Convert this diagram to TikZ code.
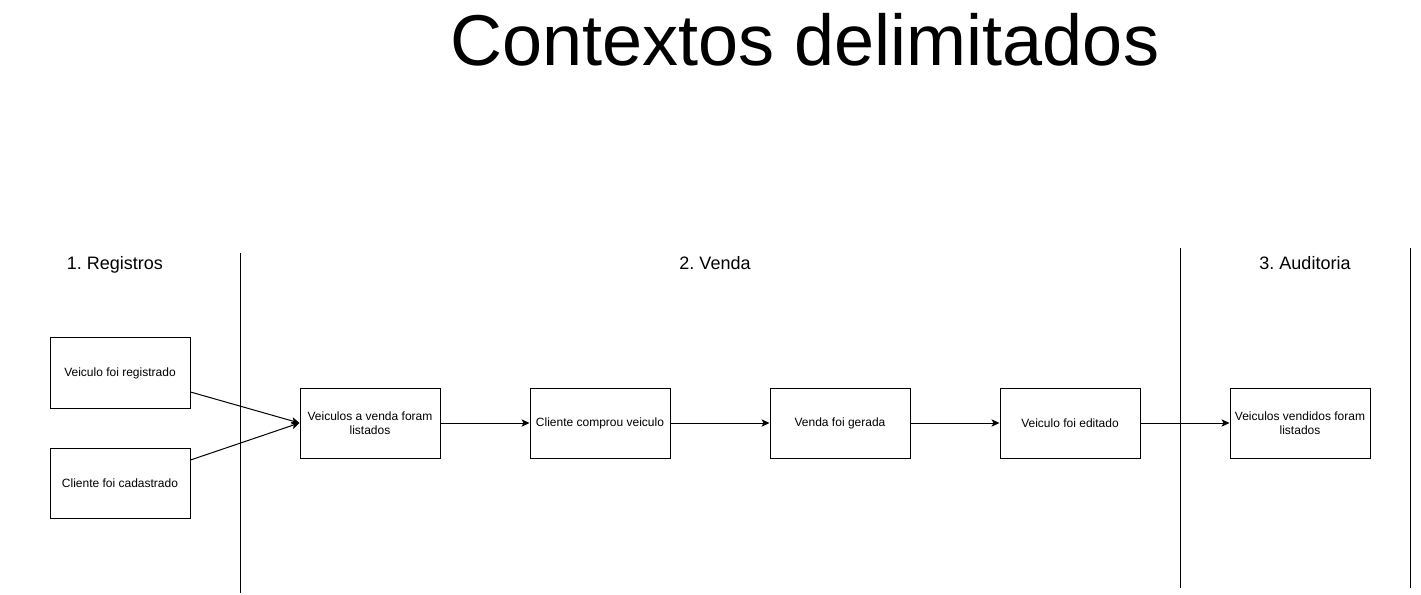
\documentclass[tikz,border=0pt]{standalone}
\usepackage{fontspec}
\setmainfont{Liberation Sans}
\usetikzlibrary{arrows.meta}
\frenchspacing
\begin{document}
\begin{tikzpicture}[x=0.75pt,y=-0.75pt,
  evbox/.style={draw=black,line width=0.75pt,minimum width=105pt,minimum height=52.5pt,inner sep=0pt,align=center,font=\fontsize{9}{10.5}\selectfont},
  lbl/.style={anchor=base,font=\fontsize{13.5}{16}\selectfont},
  conn/.style={line width=0.75pt,-{Stealth[length=6pt,width=5.5pt,inset=1.5pt]}},
  sep/.style={line width=0.75pt}]
\useasboundingbox (0,0) rectangle (1421,595);
\node (title) at (805,40) {\fontsize{54}{60}\selectfont Contextos delimitados};
\node[lbl] (l1) at (115,269.5) {1. Registros};
\node[lbl] (l2) at (715,269.5) {2. Venda};
\node[lbl] (l3) at (1305,269.5) {3. Auditoria};
\coordinate (s1a) at (240,253); \coordinate (s1b) at (240,593);
\coordinate (s2a) at (1180,248); \coordinate (s2b) at (1180,588);
\coordinate (s3a) at (1410,248); \coordinate (s3b) at (1410,588);
\draw[sep] (s1a) -- (s1b);
\draw[sep] (s2a) -- (s2b);
\draw[sep] (s3a) -- (s3b);
\node[evbox] (a) at (120,373) {Veiculo foi registrado};
\node[evbox] (b) at (120,483) {Cliente foi cadastrado};
\node[evbox] (c) at (370,423) {Veiculos a venda foram\\listados};
\node[evbox] (d) at (600,423) {Cliente comprou veiculo};
\node[evbox] (e) at (840,423) {Venda foi gerada};
\node[evbox] (f) at (1070,423) {Veiculo foi editado};
\node[evbox] (g) at (1300,423) {Veiculos vendidos foram\\listados};
\draw[conn] ([yshift=-14.25pt]a.east) -- (c.west);
\draw[conn] ([yshift=17.25pt]b.east) -- (c.west);
\draw[conn] (c) -- (d);
\draw[conn] (d) -- (e);
\draw[conn] (e) -- (f);
\draw[conn] (f) -- (g);
\end{tikzpicture}
\end{document}
